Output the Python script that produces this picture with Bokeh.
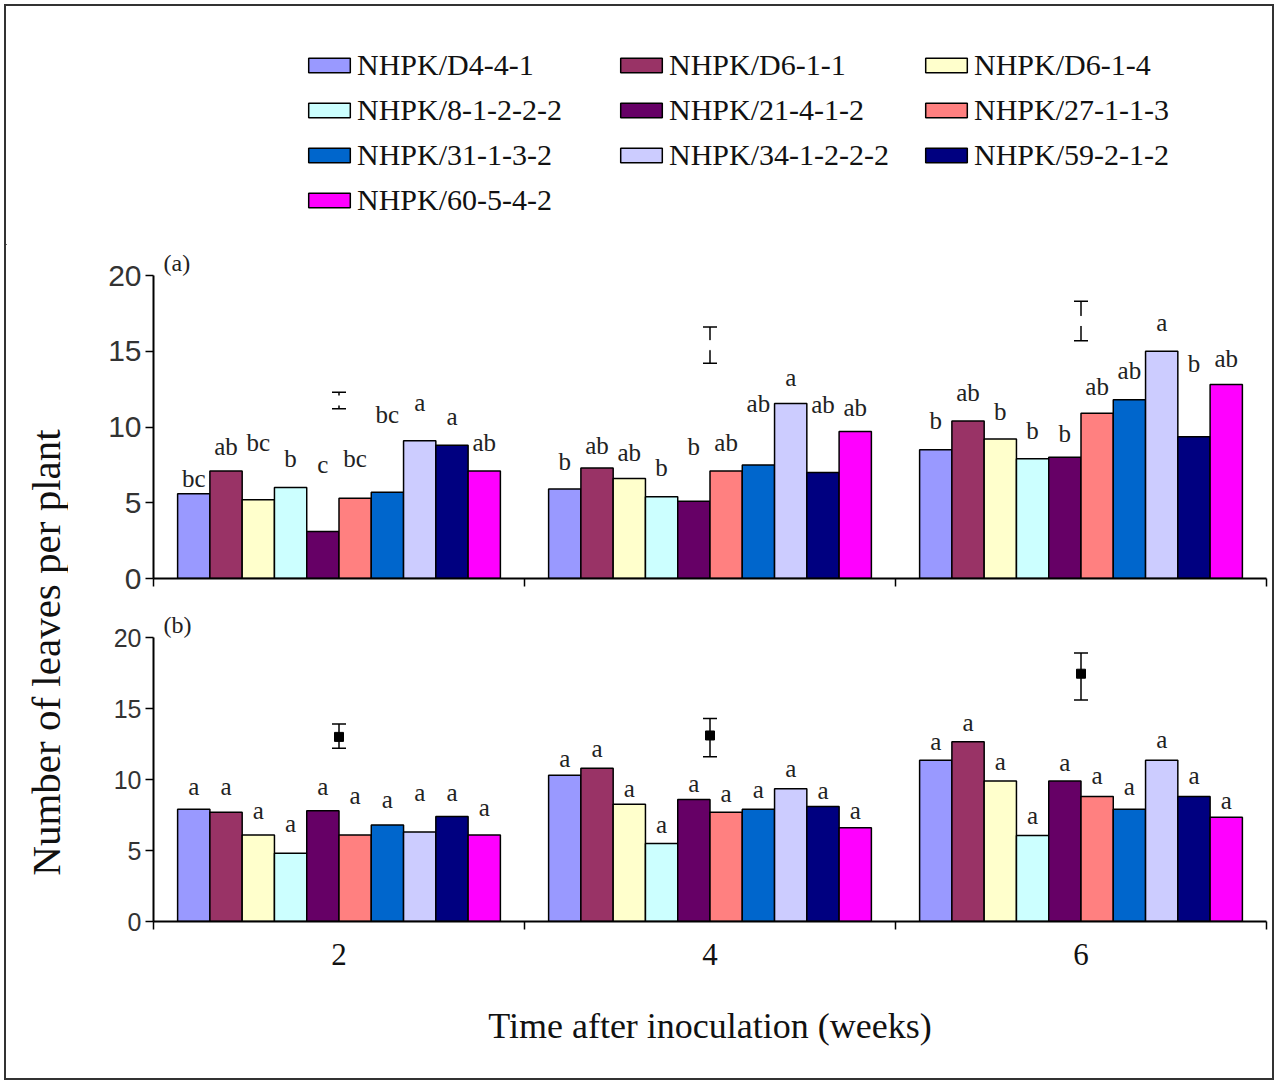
import numpy as np
from bokeh.plotting import figure
from bokeh.models import (Range1d, FixedTicker, ColumnDataSource, Legend, LegendItem,
                          Whisker, TeeHead, Label)
from bokeh.layouts import column, row
from bokeh.embed import file_html
from bokeh.resources import INLINE
from bokeh.core.properties import value

# ---------------- data ----------------
weeks = ["2", "4", "6"]
isolates = ["NHPK/D4-4-1", "NHPK/D6-1-1", "NHPK/D6-1-4", "NHPK/8-1-2-2-2",
            "NHPK/21-4-1-2", "NHPK/27-1-1-3", "NHPK/31-1-3-2", "NHPK/34-1-2-2-2",
            "NHPK/59-2-1-2", "NHPK/60-5-4-2"]
colors = ["#9999FF", "#993366", "#FFFFCC", "#CCFFFF", "#660066",
          "#FF8080", "#0066CC", "#CCCCFF", "#000080", "#FF00FF"]

# panel (a): leaves per plant, one list per week (isolate order)
a_week2 = [5.6, 7.1, 5.2, 6.0, 3.1, 5.3, 5.7, 9.1, 8.8, 7.1]
a_week4 = [5.9, 7.3, 6.6, 5.4, 5.1, 7.1, 7.5, 11.55, 7.0, 9.7]
a_week6 = [8.5, 10.4, 9.2, 7.9, 8.0, 10.9, 11.8, 15.0, 9.35, 12.8]
a_letters2 = ["bc", "ab", "bc", "b", "c", "bc", "bc", "a", "a", "ab"]
a_letters4 = ["b", "ab", "ab", "b", "b", "ab", "ab", "a", "ab", "ab"]
a_letters6 = ["b", "ab", "b", "b", "b", "ab", "ab", "a", "b", "ab"]
a_letter_y2 = [6.6, 8.7, 9.0, 7.9, 7.5, 7.9, 10.8, 11.6, 10.7, 9.0]
a_letter_y4 = [7.7, 8.8, 8.3, 7.3, 8.7, 9.0, 11.55, 13.3, 11.5, 11.3]
a_letter_y6 = [10.4, 12.3, 11.0, 9.8, 9.6, 12.7, 13.7, 16.9, 14.2, 14.5]
a_lsd_low = [11.2, 14.2, 15.7]
a_lsd_mid = [11.75, 15.4, 17.0]
a_lsd_high = [12.3, 16.6, 18.3]

# panel (b)
b_week2 = [7.9, 7.7, 6.1, 4.8, 7.8, 6.1, 6.8, 6.3, 7.4, 6.1]
b_week4 = [10.3, 10.8, 8.25, 5.5, 8.6, 7.7, 7.9, 9.35, 8.1, 6.6]
b_week6 = [11.35, 12.65, 9.9, 6.05, 9.9, 8.8, 7.9, 11.35, 8.8, 7.35]
b_letters2 = ["a"] * 10
b_letters4 = ["a"] * 10
b_letters6 = ["a"] * 10
b_letter_y2 = [9.5, 9.5, 7.8, 6.9, 9.5, 8.9, 8.6, 9.1, 9.1, 8.0]
b_letter_y4 = [11.5, 12.2, 9.4, 6.8, 9.75, 9.0, 9.3, 10.8, 9.25, 7.8]
b_letter_y6 = [12.7, 14.0, 11.3, 7.5, 11.2, 10.25, 9.5, 12.8, 10.25, 8.55]
b_lsd_low = [12.2, 11.6, 15.6]
b_lsd_mid = [13.0, 13.1, 17.45]
b_lsd_high = [13.9, 14.3, 18.9]

y_ticks = [0, 5, 10, 15, 20]

# ---------------- styling ----------------
SERIF = "Liberation Serif"
SANS = "Liberation Sans"
n_iso = len(isolates)
bar_w = 0.087
offsets = [(i - (n_iso - 1) / 2) * bar_w for i in range(n_iso)]
centers = [float(k) + 0.5 for k in range(len(weeks))]
bounds = [float(k) for k in range(len(weeks) + 1)]


def make_panel(vals, letters, letter_y, lo, mid, hi, marker_fill, tag,
               height, top_border, bottom_border, tick_font_size, bottom_panel):
    p = figure(width=1204, height=height, x_range=Range1d(0, len(weeks)),
               y_range=Range1d(0, 20), output_backend="svg", toolbar_location=None,
               min_border_left=85, min_border_right=6, min_border_top=top_border,
               min_border_bottom=bottom_border, title=tag)
    p.title.text_font = SERIF
    p.title.text_font_size = "24px"
    p.title.text_font_style = "normal"
    p.title.text_color = "#222222"
    p.title.align = "left"
    p.title.offset = 10
    p.title.standoff = 0
    p.xgrid.visible = False
    p.ygrid.visible = False
    p.outline_line_color = None

    for i in range(n_iso):
        xs = [c + offsets[i] for c in centers]
        tops = [vals[w][i] for w in range(len(weeks))]
        p.vbar(x=xs, top=tops, bottom=0, width=bar_w, fill_color=colors[i],
               line_color="black", line_width=1.5)

    lx, ly, lt = [], [], []
    for w in range(len(weeks)):
        for i in range(n_iso):
            lx.append(centers[w] + offsets[i])
            ly.append(letter_y[w][i])
            lt.append(letters[w][i])
    p.text(x=lx, y=ly, text=lt, text_align="center", text_baseline="middle",
           text_font=value(SERIF), text_font_size="25px", text_color="#222222")

    src = ColumnDataSource(dict(x=centers, lo=lo, hi=hi, mid=mid))
    wh = Whisker(source=src, base="x", upper="hi", lower="lo", dimension="height",
                 line_color="black", line_width=1.5, level="underlay",
                 upper_head=TeeHead(size=14, line_color="black", line_width=1.5),
                 lower_head=TeeHead(size=14, line_color="black", line_width=1.5))
    p.add_layout(wh)
    p.scatter(x="x", y="mid", source=src, marker="square", size=9,
              fill_color=marker_fill, line_color=marker_fill)

    ya = p.yaxis[0]
    ya.ticker = FixedTicker(ticks=y_ticks)
    ya.minor_tick_line_color = None
    ya.major_tick_out = 8
    ya.major_tick_in = 0
    ya.major_tick_line_width = 1.5
    ya.major_tick_line_color = "black"
    ya.axis_line_width = 2
    ya.axis_line_color = "black"
    ya.major_label_text_font = SANS
    ya.major_label_text_font_size = tick_font_size
    ya.major_label_text_color = "#333333"
    ya.major_label_standoff = 4

    xa = p.xaxis[0]
    xa.ticker = FixedTicker(ticks=centers, minor_ticks=bounds)
    xa.major_tick_line_color = None
    xa.minor_tick_out = 8
    xa.minor_tick_in = 0
    xa.minor_tick_line_width = 1.5
    xa.minor_tick_line_color = "black"
    xa.axis_line_width = 2
    xa.axis_line_color = "black"
    if bottom_panel:
        xa.major_label_overrides = {c: wk for c, wk in zip(centers, weeks)}
        xa.major_label_text_font = SERIF
        xa.major_label_text_font_size = "31px"
        xa.major_label_text_color = "#111111"
        xa.major_label_standoff = 14
        xa.axis_label = "Time after inoculation (weeks)"
        xa.axis_label_text_font = SERIF
        xa.axis_label_text_font_size = "36px"
        xa.axis_label_text_font_style = "normal"
        xa.axis_label_text_color = "#111111"
        xa.axis_label_standoff = 38
    else:
        xa.major_label_overrides = {c: "" for c in centers}
        xa.major_label_text_font_size = "1px"
    return p


fa = make_panel([a_week2, a_week4, a_week6], [a_letters2, a_letters4, a_letters6],
                [a_letter_y2, a_letter_y4, a_letter_y6], a_lsd_low, a_lsd_mid, a_lsd_high,
                "white", "(a)", 355, 30, 22, "30px", False)
fb = make_panel([b_week2, b_week4, b_week6], [b_letters2, b_letters4, b_letters6],
                [b_letter_y2, b_letter_y4, b_letter_y6], b_lsd_low, b_lsd_mid, b_lsd_high,
                "black", "(b)", 478, 37, 157, "25px", True)
fb.x_range = fa.x_range

# ---------------- y label ----------------
yl = figure(width=62, height=833, output_backend="svg", toolbar_location=None,
            x_axis_type=None, y_axis_type=None, min_border=0,
            x_range=Range1d(0, 1), y_range=Range1d(0, 1))
yl.outline_line_color = None
yl.xgrid.visible = False
yl.ygrid.visible = False
yl.add_layout(Label(x=39, y=426, x_units="screen", y_units="screen",
                    text="Number of leaves per plant", angle=np.pi / 2,
                    text_align="center", text_baseline="middle",
                    text_font=SERIF, text_font_size="41px", text_color="#111111"))

# ---------------- legend ----------------
lg = figure(width=1266, height=239, output_backend="svg", toolbar_location=None,
            x_axis_type=None, y_axis_type=None, min_border=0,
            x_range=Range1d(0, 1), y_range=Range1d(0, 1))
lg.outline_line_color = None
lg.xgrid.visible = False
lg.ygrid.visible = False
# legend proxies: one bar per isolate, lying entirely outside the visible ranges
rs = [lg.vbar(x=[-5.0], top=[-5.0], bottom=[-6.0], width=0.1, fill_color=c,
              line_color="black", line_width=1.5) for c in colors]
legend_x = [297, 609, 914]
legend_y = [28, 73, 73]
for k in range(3):
    items = [LegendItem(label=isolates[i], renderers=[rs[i]]) for i in range(k, n_iso, 3)]
    leg = Legend(items=items, location=(legend_x[k], legend_y[k]), orientation="vertical",
                 border_line_color=None, background_fill_alpha=0, padding=0, margin=0,
                 spacing=11, glyph_width=52, glyph_height=18, label_standoff=2,
                 label_text_font=SERIF, label_text_font_size="30px",
                 label_text_color="#111111", label_height=34)
    lg.add_layout(leg)

layout = column(lg, row(yl, column(fa, fb)),
                styles={"margin": "4px 0px 0px 4px", "border": "2px solid #333333",
                        "box-sizing": "content-box"})

open("out.html", "w").write(file_html(layout, INLINE))
